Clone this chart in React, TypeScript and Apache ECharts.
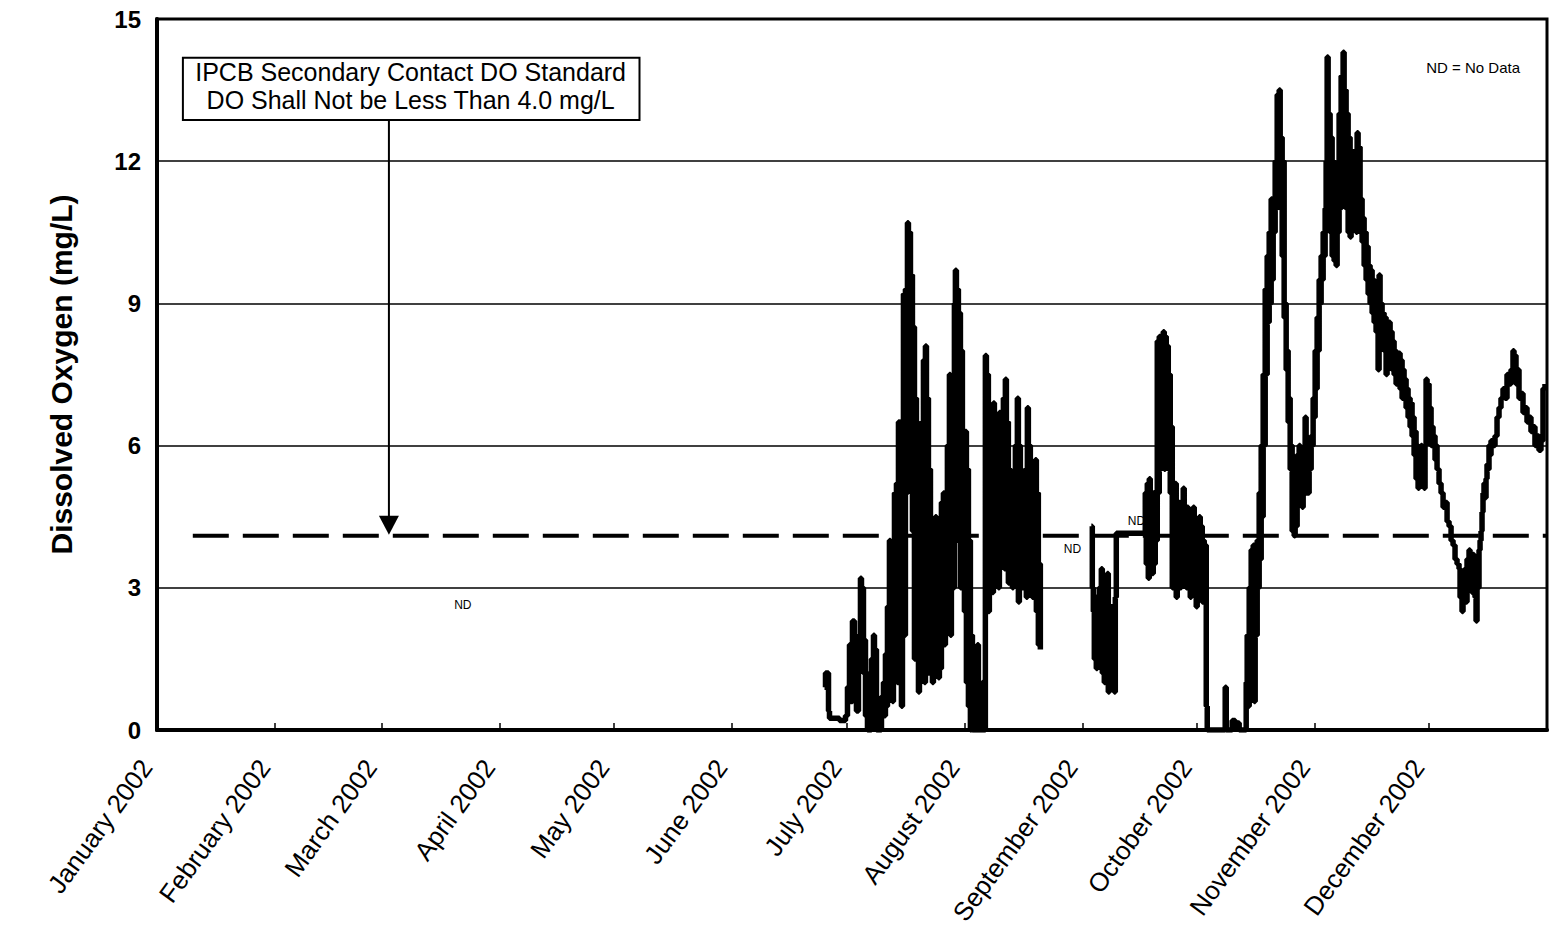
import React, { useEffect, useRef } from "react";
import * as echarts from "echarts";

const monthNames = [
  "January", "February", "March", "April", "May", "June",
  "July", "August", "September", "October", "November", "December",
];
const yMin = 0;
const yMax = 15;
const yInterval = 3;

const standardLevel = 4.1;
const standardStartDay = 9.4;
const standardEndDay = 365;

// [day of year 2002, dissolved oxygen mg/L]; null = no data
const doReadings: [number, number | null][] = [
  [175.28, 0.9], [175.54, 1.2], [176.33, 0.4], [176.59, 0.25], [179.21, 0.2], [180.79, 0.3],
  [181.31, 0.9], [181.84, 1.8], [182.1, 0.6], [182.62, 2.3], [183.15, 1.0], [183.41, 2.0],
  [183.67, 0.4], [184.2, 1.5], [184.72, 3.2], [184.99, 2.0], [185.25, 3.0], [185.51, 1.2],
  [185.78, 1.9], [186.04, 0.3], [186.3, 1.2], [186.56, 0.0], [186.83, 0.8], [187.09, 0.0],
  [187.61, 1.5], [188.14, 2.0], [188.4, 0.5], [188.66, 1.7], [188.92, 0.0], [189.71, 0.0],
  [190.24, 0.7], [190.76, 1.0], [191.02, 0.3], [191.28, 1.6], [191.54, 0.5], [191.81, 2.6],
  [192.07, 1.0], [192.33, 4.0], [192.59, 1.5], [192.86, 3.5], [193.12, 0.6], [193.38, 2.0],
  [193.65, 5.0], [193.91, 2.0], [194.17, 5.2], [194.43, 1.0], [194.7, 6.5], [194.96, 3.0],
  [195.22, 6.5], [195.48, 0.5], [195.75, 4.5], [196.01, 9.2], [196.27, 2.0], [196.53, 9.3],
  [196.8, 5.0], [197.06, 10.7], [197.32, 8.0], [197.58, 10.5], [197.85, 6.0], [198.11, 9.6],
  [198.37, 4.2], [198.64, 8.5], [198.9, 1.5], [199.16, 7.0], [199.42, 3.5], [199.69, 5.0],
  [199.95, 0.8], [200.21, 4.2], [200.47, 1.2], [200.74, 6.5], [201.0, 2.0], [201.26, 7.8],
  [201.52, 1.0], [201.78, 8.1], [202.05, 3.0], [202.31, 7.0], [202.57, 1.2], [202.83, 5.5],
  [203.1, 2.4], [203.36, 4.2], [203.62, 1.0], [203.88, 3.0], [204.14, 1.2], [204.4, 4.5],
  [204.67, 1.5], [204.93, 3.8], [205.19, 1.1], [205.45, 4.0], [205.72, 1.3], [205.98, 4.8],
  [206.24, 2.0], [206.5, 5.0], [206.77, 1.8], [207.03, 4.2], [207.29, 3.0], [207.55, 6.0],
  [207.82, 2.5], [208.08, 7.5], [208.34, 2.0], [208.6, 5.0], [208.87, 3.0], [209.39, 9.0],
  [209.65, 9.7], [209.92, 6.0], [210.18, 9.3], [210.44, 4.0], [210.7, 8.8], [210.97, 3.0],
  [211.23, 8.0], [211.49, 5.0], [211.75, 6.0], [212.02, 2.5], [212.28, 6.3], [212.54, 1.0],
  [212.8, 5.5], [213.07, 0.5], [213.33, 4.0], [213.59, 0.0], [213.85, 2.0], [214.12, 0.0],
  [214.64, 1.5], [214.9, 0.0], [215.43, 1.8], [215.69, 0.0], [216.74, 1.0], [217.0, 0.0],
  [217.52, 7.9], [217.79, 3.0], [218.05, 7.5], [218.31, 2.5], [218.57, 6.0], [218.84, 3.5],
  [219.1, 5.5], [219.36, 2.9], [219.63, 6.9], [219.89, 3.2], [220.15, 6.0], [220.41, 4.0],
  [220.68, 5.5], [220.94, 3.0], [221.2, 6.7], [221.46, 3.5], [221.73, 6.3], [221.99, 4.5],
  [222.25, 7.0], [222.51, 3.4], [222.77, 7.4], [223.04, 4.0], [223.3, 6.5], [223.56, 3.1],
  [223.82, 5.5], [224.09, 3.5], [224.35, 5.0], [224.61, 3.0], [224.87, 4.5], [225.14, 3.3],
  [225.4, 6.0], [225.66, 3.2], [225.92, 7.0], [226.19, 2.7], [226.45, 6.0], [226.71, 3.5],
  [226.97, 5.2], [227.24, 3.0], [227.5, 4.5], [227.76, 3.0], [228.02, 5.5], [228.28, 2.8],
  [228.55, 6.8], [228.81, 3.0], [229.07, 6.0], [229.33, 3.5], [229.6, 4.5], [229.86, 2.8],
  [230.12, 5.0], [230.38, 3.0], [230.64, 5.7], [230.91, 2.5], [231.17, 5.0], [231.43, 1.8],
  [231.69, 3.5], [231.96, 1.7],
  [232.0, null],
  [245.34, 4.3], [245.6, 3.0], [245.87, 2.5], [246.13, 1.5], [246.39, 2.8], [246.65, 1.3],
  [246.92, 2.0], [247.18, 1.4], [247.44, 3.0], [247.7, 1.6], [247.97, 3.4], [248.23, 1.2],
  [248.49, 2.5], [248.75, 1.0], [249.01, 2.2], [249.28, 1.4], [249.54, 3.3], [249.8, 0.8],
  [250.06, 2.2], [250.33, 1.0], [250.59, 2.6], [250.85, 1.3], [251.11, 1.8], [251.38, 0.8],
  [251.64, 2.8], [251.9, 4.15], [259.25, 4.15], [259.51, 5.0], [259.77, 3.5], [260.04, 5.2],
  [260.3, 3.2], [260.56, 5.3], [260.82, 3.8], [261.09, 4.5], [261.35, 3.3], [261.61, 5.0],
  [261.87, 3.5], [262.13, 4.6], [262.4, 4.0], [262.66, 8.2], [262.92, 5.0], [263.18, 8.3],
  [263.45, 5.5], [263.71, 8.3], [263.97, 6.0], [264.23, 8.4], [264.5, 5.5], [264.76, 8.3],
  [265.02, 6.0], [265.28, 8.1], [265.55, 5.5], [265.81, 7.5], [266.07, 5.0], [266.33, 6.4],
  [266.6, 3.0], [266.86, 4.5], [267.12, 3.4], [267.38, 5.2], [267.64, 2.8], [267.91, 4.0],
  [268.17, 3.5], [268.43, 4.8], [268.69, 3.0], [268.96, 4.3], [269.22, 3.6], [269.48, 5.1],
  [269.74, 3.2], [270.0, 4.4], [270.27, 3.0], [270.53, 4.7], [270.79, 3.4], [271.05, 4.0],
  [271.32, 2.8], [271.58, 4.5], [271.84, 3.5], [272.1, 4.7], [272.37, 3.0], [272.63, 4.2],
  [272.89, 2.6], [273.15, 3.8], [273.42, 3.2], [273.68, 4.5], [273.94, 3.0], [274.2, 4.3],
  [274.47, 2.7], [274.73, 4.0], [274.99, 3.0], [275.25, 3.9], [275.52, 0.5], [275.78, 0.0],
  [280.24, 0.0], [280.5, 0.9], [280.77, 0.0], [282.34, 0.2], [283.12, 0.1], [283.65, 0.15],
  [284.17, 0.0], [285.75, 0.0], [286.01, 1.0], [286.27, 2.0], [286.54, 0.5], [286.8, 3.0],
  [287.06, 1.5], [287.32, 3.8], [287.59, 1.5], [287.85, 3.9], [288.11, 0.6], [288.37, 3.5],
  [288.64, 2.0], [288.9, 4.0], [289.16, 3.0], [289.42, 5.0], [289.69, 3.6], [289.95, 6.0],
  [290.21, 4.5], [290.47, 7.5], [290.74, 6.0], [291.0, 9.3], [291.26, 7.5], [291.52, 10.0],
  [291.79, 8.6], [292.05, 10.5], [292.31, 9.0], [292.57, 11.2], [292.84, 9.5], [293.1, 11.0],
  [293.36, 10.5], [293.62, 12.0], [293.89, 11.0], [294.15, 13.4], [294.41, 12.0], [294.67, 13.5],
  [294.94, 12.3], [295.2, 12.5], [295.46, 10.0], [295.72, 12.0], [295.98, 8.7], [296.24, 9.0],
  [296.51, 7.6], [296.77, 8.0], [297.03, 6.5], [297.29, 7.0], [297.56, 5.5], [297.82, 6.0],
  [298.08, 4.2], [298.34, 5.5], [298.61, 4.1], [298.87, 5.0], [299.13, 4.3], [299.39, 5.8],
  [299.66, 4.8], [299.92, 6.0], [300.18, 4.8], [300.44, 5.5], [300.71, 4.7], [300.97, 5.6],
  [301.23, 5.0], [301.49, 6.6], [301.75, 5.0], [302.02, 6.0], [302.28, 5.0], [302.54, 6.0],
  [302.8, 5.5], [303.07, 6.2], [303.33, 6.0], [303.59, 7.0], [303.86, 6.6], [304.12, 8.0],
  [304.38, 7.2], [304.64, 8.7], [304.91, 8.0], [305.17, 9.5], [305.43, 9.0], [305.69, 10.0],
  [305.96, 9.5], [306.22, 10.5], [306.48, 10.0], [306.74, 11.0], [307.0, 12.0], [307.27, 14.2],
  [307.53, 11.5], [307.79, 13.0], [308.05, 10.5], [308.32, 12.5], [308.58, 10.0], [308.84, 12.0],
  [309.1, 9.9], [309.36, 11.0], [309.63, 9.8], [309.89, 11.5], [310.15, 10.5], [310.41, 13.0],
  [310.68, 11.0], [310.94, 13.8], [311.2, 12.0], [311.46, 14.3], [311.73, 11.5], [311.99, 13.5],
  [312.25, 11.0], [312.51, 13.0], [312.78, 10.5], [313.04, 12.5], [313.3, 10.4], [313.56, 12.0],
  [313.83, 10.8], [314.09, 12.2], [314.35, 11.0], [314.61, 11.5], [314.88, 10.5], [315.14, 12.6],
  [315.4, 11.0], [315.66, 12.3], [315.92, 10.5], [316.19, 11.2], [316.45, 10.3], [316.71, 10.8],
  [316.98, 9.8], [317.24, 10.5], [317.5, 9.5], [317.76, 10.2], [318.03, 9.2], [318.29, 9.8],
  [318.55, 9.0], [318.81, 9.7], [319.08, 8.8], [319.34, 9.5], [319.6, 8.6], [319.86, 9.2],
  [320.12, 8.4], [320.39, 9.0], [320.65, 7.6], [320.91, 9.6], [321.17, 8.5], [321.44, 9.0],
  [321.7, 8.3], [321.96, 8.8], [322.22, 8.0], [322.48, 8.7], [322.75, 7.5], [323.01, 8.5],
  [323.27, 8.0], [323.53, 8.6], [323.8, 7.7], [324.06, 8.4], [324.32, 7.6], [324.58, 8.2],
  [324.85, 7.5], [325.11, 8.0], [325.37, 7.3], [325.63, 7.9], [325.9, 7.3], [326.16, 7.95],
  [326.42, 7.2], [326.68, 7.8], [326.95, 7.0], [327.21, 7.6], [327.47, 7.0], [327.73, 7.4],
  [328.0, 6.8], [328.26, 7.2], [328.52, 6.6], [328.78, 7.0], [329.05, 6.4], [329.31, 6.9],
  [329.57, 6.2], [329.83, 6.6], [330.1, 5.8], [330.36, 6.3], [330.62, 5.3], [330.88, 6.0],
  [331.15, 5.1], [331.41, 5.8], [331.67, 5.5], [331.93, 6.0], [332.2, 5.2], [332.46, 5.6],
  [332.72, 5.1], [332.98, 6.0], [333.25, 7.4], [333.51, 6.5], [333.77, 7.3], [334.03, 6.2],
  [334.3, 6.8], [334.56, 6.0], [334.82, 6.4], [335.08, 6.0], [335.34, 6.2], [335.6, 5.7],
  [335.87, 6.0], [336.13, 5.5], [336.65, 5.2], [337.18, 5.0], [337.71, 4.7], [338.23, 4.8],
  [338.76, 4.4], [339.28, 4.3], [339.81, 4.0], [340.33, 3.9], [340.85, 3.6], [341.38, 3.5],
  [341.9, 3.4], [342.17, 2.8], [342.43, 3.2], [342.69, 2.5], [342.95, 3.0], [343.22, 2.8],
  [343.48, 3.4], [343.74, 2.7], [344.0, 3.6], [344.27, 3.0], [344.53, 3.8], [344.79, 3.1],
  [345.05, 3.5], [345.32, 2.9], [345.58, 3.7], [345.84, 3.0], [346.1, 2.8], [346.37, 2.3],
  [346.63, 3.2], [346.89, 3.0], [347.15, 3.8], [347.42, 4.0], [347.68, 4.2], [347.94, 4.6],
  [348.2, 5.0], [348.46, 5.2], [348.72, 4.9], [348.99, 5.3], [349.25, 5.6], [349.51, 5.5],
  [349.77, 6.0], [350.04, 5.8], [350.3, 6.1], [350.83, 6.0], [351.35, 6.2], [351.88, 6.6],
  [352.4, 6.8], [352.92, 7.0], [353.45, 7.2], [353.97, 7.0], [354.5, 7.5], [355.02, 7.3],
  [355.55, 7.6], [356.07, 8.0], [356.34, 7.5], [356.6, 7.9], [356.86, 7.3], [357.12, 7.6],
  [357.65, 7.0], [358.17, 7.1], [358.7, 6.7], [359.22, 6.8], [359.75, 6.5], [360.27, 6.6],
  [360.79, 6.3], [361.32, 6.4], [361.84, 6.0], [362.37, 6.2], [362.89, 5.9], [363.42, 6.1],
  [363.95, 7.2], [364.47, 7.3],
];

// text notes: [day of year, mg/L, text]
const ndNotes: [number, number, string][] = [
  [80.3, 2.64, "ND"],
  [240.4, 3.82, "ND"],
  [257.2, 4.41, "ND"],
];
const legendNote: [number, number, string] = [345.6, 13.97, "ND = No Data"];

const annotationLines = [
  "IPCB Secondary Contact DO Standard",
  "DO Shall Not be Less Than 4.0 mg/L",
];
// annotation box corners and arrow in data units [day, mg/L]
const annotationBox = { dayFrom: 6.8, dayTo: 126.7, valueTop: 14.18, valueBottom: 12.87 };
const annotationTextAt: [number, number] = [66.6, 13.58];
const arrowDay = 60.9;

const DAY = 86400000;
const BASE = Date.UTC(2002, 0, 1);
const toTime = (d: number) => BASE + d * DAY;
const FONT = "'Liberation Sans', Arial, Helvetica, sans-serif";

export default function App() {
  const ref = useRef<HTMLDivElement>(null);

  useEffect(() => {
    if (!ref.current) return;
    const chart = echarts.init(ref.current, undefined, { renderer: "svg" });

    const lineData = doReadings.map(([d, v]) => [toTime(d), v === null ? "-" : v]);

    chart.setOption({
      animation: false,
      useUTC: true,
      backgroundColor: "#ffffff",
      grid: {
        left: 157,
        top: 19,
        right: 3,
        bottom: 202,
        show: true,
        borderColor: "#000",
        borderWidth: 3,
        containLabel: false,
        outerBoundsMode: "none",
      },
      xAxis: {
        type: "time",
        min: toTime(0),
        max: toTime(365),
        splitNumber: 12,
        minInterval: 28 * DAY,
        maxInterval: 31 * DAY,
        axisLine: { show: true, lineStyle: { color: "#000", width: 4 } },
        axisTick: { show: true, inside: true, length: 7, lineStyle: { color: "#000", width: 1.5 } },
        splitLine: { show: false },
        axisLabel: {
          rotate: 54,
          margin: 18,
          padding: [0, 18, 0, 0],
          color: "#000",
          fontSize: 26,
          fontFamily: FONT,
          showMinLabel: true,
          showMaxLabel: true,
          formatter: (val: number) => {
            const dt = new Date(val);
            if (dt.getUTCFullYear() !== 2002) return "";
            return monthNames[dt.getUTCMonth()] + " 2002";
          },
        },
      },
      yAxis: {
        type: "value",
        min: yMin,
        max: yMax,
        interval: yInterval,
        name: "Dissolved Oxygen (mg/L)",
        nameLocation: "middle",
        nameGap: 81,
        nameTextStyle: { fontSize: 30, fontWeight: "bold", color: "#000", fontFamily: FONT },
        axisLine: { show: true, lineStyle: { color: "#000", width: 4 } },
        axisTick: { show: false },
        splitLine: { show: true, lineStyle: { color: "#000", width: 1.6 } },
        axisLabel: { color: "#000", fontSize: 24, fontWeight: "bold", fontFamily: FONT, margin: 16 },
      },
      series: [
        {
          type: "line",
          name: "Standard",
          data: [[toTime(standardStartDay), standardLevel], [toTime(standardEndDay), standardLevel]],
          symbol: "none",
          lineStyle: { color: "#000", width: 4, type: [36, 14], cap: "butt" },
          z: 2,
          silent: true,
        },
        {
          type: "line",
          name: "Dissolved Oxygen",
          data: lineData,
          step: "end",
          symbol: "none",
          showSymbol: false,
          connectNulls: false,
          lineStyle: { color: "#000", width: 5.5 },
          z: 3,
          silent: true,
        },
      ],
    });

    const px = (d: number, v: number) =>
      chart.convertToPixel({ xAxisIndex: 0, yAxisIndex: 0 }, [toTime(d), v]) as number[];

    const [bx1, by1] = px(annotationBox.dayFrom, annotationBox.valueTop);
    const [bx2, by2] = px(annotationBox.dayTo, annotationBox.valueBottom);
    const [tx, ty] = px(annotationTextAt[0], annotationTextAt[1]);
    const [ax, ay] = px(arrowDay, standardLevel);

    const graphics: any[] = [
      {
        type: "rect",
        shape: { x: bx1, y: by1, width: bx2 - bx1, height: by2 - by1 },
        style: { fill: "#fff", stroke: "#000", lineWidth: 2 },
        z: 10,
      },
      {
        type: "text",
        x: tx,
        y: ty,
        style: {
          text: annotationLines.join("\n"),
          fill: "#000",
          font: `25px ${FONT}`,
          align: "center",
          verticalAlign: "middle",
          lineHeight: 28,
        },
        z: 11,
      },
      {
        type: "line",
        shape: { x1: ax, y1: by2, x2: ax, y2: ay - 18 },
        style: { stroke: "#000", lineWidth: 2 },
        z: 10,
      },
      {
        type: "polygon",
        shape: { points: [[ax - 10, ay - 20], [ax + 10, ay - 20], [ax, ay - 1]] },
        style: { fill: "#000" },
        z: 10,
      },
    ];
    ndNotes.forEach(([d, v, t]) => {
      const [x, y] = px(d, v);
      graphics.push({
        type: "text",
        x,
        y,
        style: { text: t, fill: "#000", font: `12px ${FONT}`, align: "center", verticalAlign: "middle" },
        z: 11,
      });
    });
    {
      const [x, y] = px(legendNote[0], legendNote[1]);
      graphics.push({
        type: "text",
        x,
        y,
        style: { text: legendNote[2], fill: "#000", font: `15px ${FONT}`, align: "center", verticalAlign: "middle" },
        z: 11,
      });
    }
    chart.setOption({ graphic: graphics });

    return () => chart.dispose();
  }, []);

  return (
    <div
      ref={ref}
      style={{ position: "fixed", left: 0, top: 0, width: 1550, height: 932, background: "#fff" }}
    />
  );
}
